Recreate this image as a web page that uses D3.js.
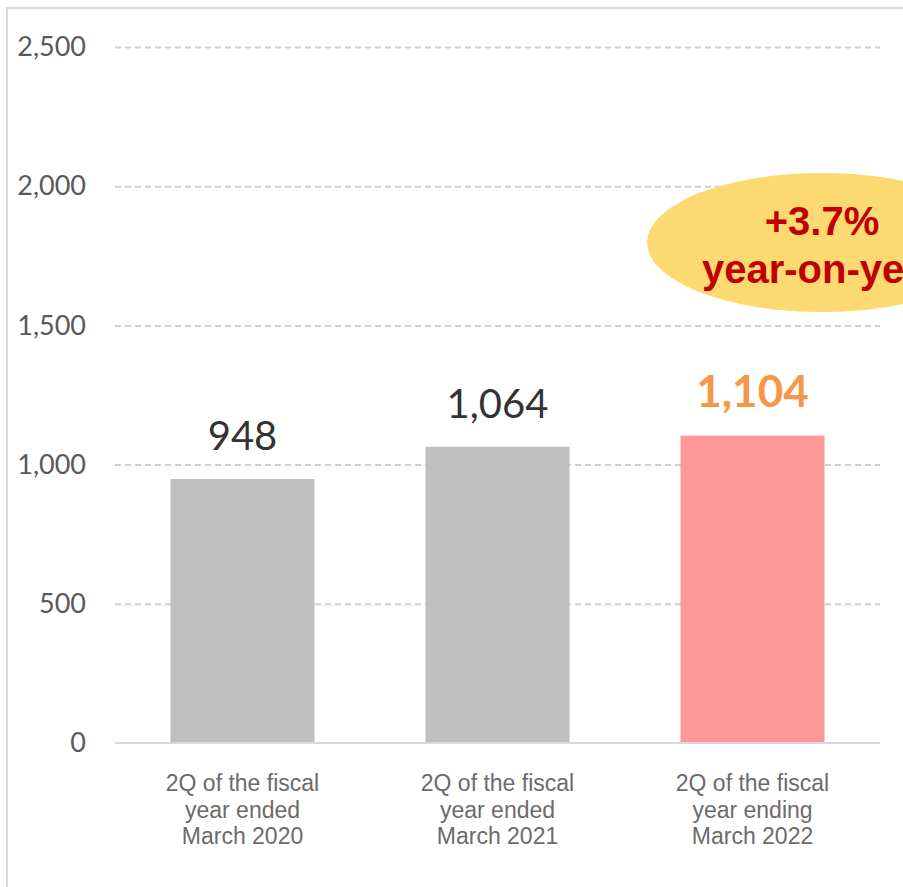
<!DOCTYPE html>
<html>
<head>
<meta charset="utf-8">
<script src="https://cdn.jsdelivr.net/npm/d3@7"></script>
<style>
  html, body { margin: 0; padding: 0; background: #fff; overflow: hidden; }
  svg { display: block; }
</style>
</head>
<body>
<svg id="chart" width="903" height="887"></svg>
<script>
// Second-quarter results, three fiscal years
const categories = [
  ["2Q of the fiscal", "year ended", "March 2020"],
  ["2Q of the fiscal", "year ended", "March 2021"],
  ["2Q of the fiscal", "year ending", "March 2022"]
];
const values = [948, 1064, 1104];
const yTicks = [0, 500, 1000, 1500, 2000, 2500];
const calloutLines = ["+3.7%", "year-on-year"];

const svg = d3.select("#chart");
const W = 903, H = 887;

// frame around the chart area (runs past the right and bottom edges)
svg.append("rect")
  .attr("x", 7).attr("y", 8)
  .attr("width", W + 20).attr("height", H + 20)
  .attr("fill", "none")
  .attr("stroke", "#d9d9d9")
  .attr("stroke-width", 2);

const plot = { left: 115, right: 880, top: 47, bottom: 743 };

const x = d3.scaleBand()
  .domain(d3.range(categories.length))
  .range([plot.left, plot.right])
  .paddingInner(0.435)
  .paddingOuter(0.2175);

const y = d3.scaleLinear()
  .domain([0, 2500])
  .range([plot.bottom, plot.top]);

// dashed gridlines and value ticks
const yAxis = d3.axisLeft(y)
  .tickValues(yTicks)
  .tickFormat(d3.format(","))
  .tickSize(-(plot.right - plot.left))
  .tickPadding(29);

const gy = svg.append("g")
  .attr("transform", `translate(${plot.left},0)`)
  .call(yAxis);
gy.select(".domain").remove();
gy.selectAll(".tick line")
  .attr("stroke", d => d === 0 ? "none" : "#d0d0d0")
  .attr("stroke-width", 2)
  .attr("stroke-dasharray", "6 4");
gy.selectAll(".tick text")
  .attr("fill", "#595959")
  .style("font-family", "Lato, 'Open Sans', sans-serif")
  .style("font-size", "27px");

// bars
svg.append("g").selectAll("rect")
  .data(values)
  .join("rect")
  .attr("x", (d, i) => x(i))
  .attr("y", d => y(d))
  .attr("width", x.bandwidth())
  .attr("height", d => y(0) - y(d))
  .attr("fill", (d, i) => i === values.length - 1 ? "#ff9999" : "#bfbfbf");

// baseline
svg.append("line")
  .attr("x1", plot.left).attr("x2", plot.right)
  .attr("y1", y(0)).attr("y2", y(0))
  .attr("stroke", "#d9d9d9")
  .attr("stroke-width", 2);

// value labels
svg.append("g").selectAll("text")
  .data(values)
  .join("text")
  .attr("x", (d, i) => x(i) + x.bandwidth() / 2)
  .attr("y", d => y(d) - 29)
  .attr("text-anchor", "middle")
  .style("font-family", "Lato, 'Open Sans', sans-serif")
  .style("font-size", (d, i) => i === values.length - 1 ? "44px" : "40px")
  .style("font-weight", (d, i) => i === values.length - 1 ? "bold" : "normal")
  .attr("fill", (d, i) => i === values.length - 1 ? "#f79646" : "#333333")
  .text(d => d3.format(",")(d));

// category labels
const cat = svg.append("g").selectAll("text")
  .data(categories)
  .join("text")
  .attr("x", (d, i) => x(i) + x.bandwidth() / 2)
  .attr("y", 791)
  .attr("text-anchor", "middle")
  .attr("fill", "#6b6b6b")
  .style("font-family", "'Liberation Sans', Arial, sans-serif")
  .style("font-size", "23px");
cat.selectAll("tspan")
  .data(d => d)
  .join("tspan")
  .attr("x", function () { return d3.select(this.parentNode).attr("x"); })
  .attr("dy", (d, i) => i === 0 ? 0 : 26.5)
  .text(d => d);

// growth callout
const callout = svg.append("g").attr("transform", "translate(822,242.5)");
callout.append("ellipse")
  .attr("rx", 175).attr("ry", 69.5)
  .attr("fill", "#fdd971");
callout.selectAll("text")
  .data(calloutLines)
  .join("text")
  .attr("x", 0)
  .attr("y", (d, i) => i === 0 ? -7.5 : 40)
  .attr("text-anchor", "middle")
  .attr("fill", "#c00000")
  .style("font-family", "'Liberation Sans', Arial, sans-serif")
  .style("font-weight", "bold")
  .style("font-size", "40px")
  .text(d => d);
</script>
</body>
</html>
